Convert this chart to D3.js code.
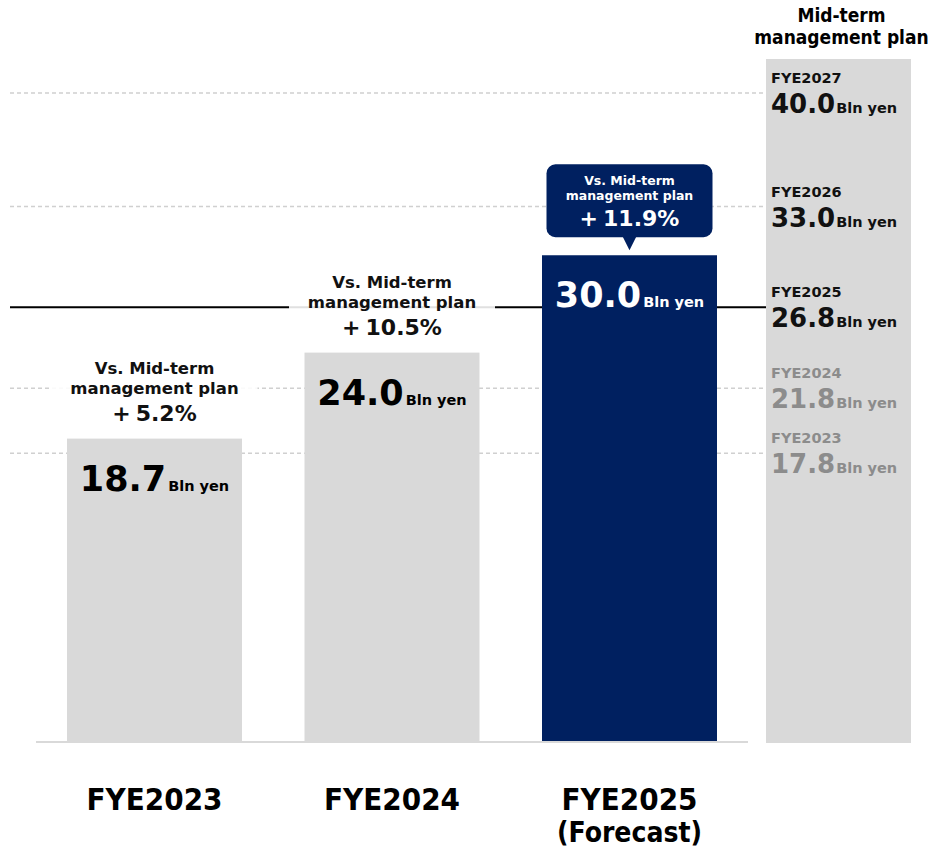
<!DOCTYPE html>
<html>
<head>
<meta charset="utf-8">
<script src="https://cdn.jsdelivr.net/npm/d3@7"></script>
<style>
  html, body { margin: 0; padding: 0; background: #fff; }
  svg { display: block; }
  text { font-family: "DejaVu Sans", Verdana, sans-serif; font-weight: bold; }
  .cond { font-family: "DejaVu Sans Condensed", "DejaVu Sans", sans-serif; font-stretch: condensed; }
</style>
</head>
<body>
<svg id="chart" width="930" height="849"></svg>
<script>
// Results by fiscal year (billion yen)
const categories = ["FYE2023", "FYE2024", "FYE2025"];
const subLabels = ["", "", "(Forecast)"];
const values = [18.7, 24.0, 30.0];
const vsPlanLabels = ["+5.2%", "+10.5%", "+11.9%"];
const highlightCategory = "FYE2025";

// Mid-term management plan targets (billion yen)
const planYears = ["FYE2027", "FYE2026", "FYE2025", "FYE2024", "FYE2023"];
const planValues = [40.0, 33.0, 26.8, 21.8, 17.8];

const unit = "Bln yen";
const vsPlanTitle = ["Vs. Mid-term", "management plan"];
const planTitle = ["Mid-term", "management plan"];

const NAVY = "#002060";
const GREY_BAR = "#d9d9d9";
const GREY_TEXT = "#8c8c8c";

const svg = d3.select("#chart");

const x = d3.scaleBand()
  .domain(categories)
  .range([67, 717])
  .paddingInner(62.5 / 237.5)
  .paddingOuter(0);

const y = d3.scaleLinear().domain([0, 40]).range([742, 93]);

const bw = x.bandwidth();
const lineX0 = 10, lineX1 = 766;
const col = { x: 766, w: 145, top: 59 };

// Percentage label with a wider gap after the sign
function pctText(sel, label, size) {
  sel.append("tspan").attr("font-size", size).text(label.charAt(0));
  sel.append("tspan").attr("font-size", size).attr("dx", 5).text(label.slice(1));
}

// Plan column background
svg.append("rect")
  .attr("x", col.x).attr("y", col.top)
  .attr("width", col.w).attr("height", y(0) - col.top + 1)
  .attr("fill", GREY_BAR);

// Plan reference lines: current year solid, others dashed
svg.append("g").selectAll("line")
  .data(planYears.map((yr, i) => ({ yr, v: planValues[i] })))
  .join("line")
  .attr("x1", lineX0).attr("x2", lineX1)
  .attr("y1", d => y(d.v)).attr("y2", d => y(d.v))
  .attr("stroke", d => d.yr === highlightCategory ? "#000" : "#d0d0d0")
  .attr("stroke-width", d => d.yr === highlightCategory ? 2 : 1.5)
  .attr("stroke-dasharray", d => d.yr === highlightCategory ? null : "4,3");

// Bars
const data = categories.map((c, i) => ({ c, v: values[i], pct: vsPlanLabels[i], sub: subLabels[i] }));

svg.append("g").selectAll("rect")
  .data(data)
  .join("rect")
  .attr("x", d => x(d.c))
  .attr("y", d => y(d.v))
  .attr("width", bw)
  .attr("height", d => y(0) - y(d.v))
  .attr("fill", d => d.c === highlightCategory ? NAVY : GREY_BAR);

// "Vs. plan" notes above the grey bars
data.filter(d => d.c !== highlightCategory).forEach(d => {
  const cx = x(d.c) + bw / 2;
  const top = y(d.v);
  const pctBase = top - 18;
  const mpBase = pctBase - 27;
  const vsBase = mpBase - 20;
  const g = svg.append("g");
  g.append("rect")
    .attr("x", cx - 103).attr("y", vsBase - 17)
    .attr("width", 206).attr("height", pctBase + 6 - (vsBase - 17))
    .attr("fill", "#fff").attr("opacity", 0.88);
  g.append("text").attr("x", cx).attr("y", vsBase)
    .attr("text-anchor", "middle").attr("font-size", 16.5).attr("fill", "#111")
    .text(vsPlanTitle[0]);
  g.append("text").attr("x", cx).attr("y", mpBase)
    .attr("text-anchor", "middle").attr("font-size", 16.5).attr("fill", "#111")
    .text(vsPlanTitle[1]);
  g.append("text").attr("x", cx).attr("y", pctBase)
    .attr("text-anchor", "middle").attr("fill", "#111")
    .call(pctText, d.pct, 22);
});

// Callout above the highlighted bar
data.filter(d => d.c === highlightCategory).forEach(d => {
  const cx = x(d.c) + bw / 2;
  const top = y(d.v);
  const boxW = 166, boxH = 73;
  const boxBottom = top - 18;
  const boxTop = boxBottom - boxH;
  const g = svg.append("g");
  g.append("rect")
    .attr("x", cx - boxW / 2).attr("y", boxTop)
    .attr("width", boxW).attr("height", boxH)
    .attr("rx", 9).attr("ry", 9)
    .attr("fill", NAVY);
  g.append("path")
    .attr("d", `M${cx - 7},${boxBottom - 1} L${cx + 7},${boxBottom - 1} L${cx},${top - 5} Z`)
    .attr("fill", NAVY);
  g.append("text").attr("x", cx).attr("y", boxTop + 21)
    .attr("text-anchor", "middle").attr("font-size", 12.5).attr("fill", "#fff")
    .text(vsPlanTitle[0]);
  g.append("text").attr("x", cx).attr("y", boxTop + 36)
    .attr("text-anchor", "middle").attr("font-size", 12.5).attr("fill", "#fff")
    .text(vsPlanTitle[1]);
  g.append("text").attr("x", cx).attr("y", boxTop + 62)
    .attr("text-anchor", "middle").attr("fill", "#fff")
    .call(pctText, d.pct, 22);
});

// Value labels inside the bars
svg.append("g").selectAll("text")
  .data(data)
  .join("text")
  .attr("x", d => x(d.c) + bw / 2)
  .attr("y", d => y(d.v) + 52)
  .attr("text-anchor", "middle")
  .attr("fill", d => d.c === highlightCategory ? "#fff" : "#000")
  .each(function (d) {
    const t = d3.select(this);
    t.append("tspan").attr("font-size", 35).text(d.v.toFixed(1));
    t.append("tspan").attr("font-size", 14.5).attr("dx", 2).text(unit);
  });

// Baseline
svg.append("line")
  .attr("x1", 36).attr("x2", 748)
  .attr("y1", y(0)).attr("y2", y(0))
  .attr("stroke", GREY_BAR).attr("stroke-width", 2);

// Category axis
const xAxis = svg.append("g")
  .attr("transform", `translate(0,${y(0)})`)
  .call(d3.axisBottom(x).tickSize(0));
xAxis.select(".domain").remove();
xAxis.selectAll("text")
  .attr("class", "cond")
  .attr("y", 68).attr("dy", 0)
  .attr("font-size", 31)
  .attr("fill", "#000")
  .each(function (d, i) {
    if (subLabels[i]) {
      d3.select(this).append("tspan")
        .attr("x", 0).attr("dy", 32)
        .attr("font-size", 28)
        .text(subLabels[i]);
    }
  });

// Plan column labels
const planG = svg.append("g");
planYears.forEach((yr, i) => {
  const v = planValues[i];
  const past = yr < highlightCategory;
  const color = past ? GREY_TEXT : "#111";
  const base = y(v) + 20;
  planG.append("text")
    .attr("x", col.x + 5).attr("y", base - 30)
    .attr("font-size", 14.5).attr("fill", color)
    .text(yr);
  const t = planG.append("text")
    .attr("x", col.x + 5).attr("y", base)
    .attr("fill", color);
  t.append("tspan").attr("font-size", 26).text(v.toFixed(1));
  t.append("tspan").attr("font-size", 14.5).attr("dx", 1).text(unit);
});

// Plan column title
svg.append("g").selectAll("text")
  .data(planTitle)
  .join("text")
  .attr("class", "cond")
  .attr("x", col.x + col.w / 2 + 3)
  .attr("y", (d, i) => 22 + i * 22)
  .attr("text-anchor", "middle")
  .attr("font-size", 19)
  .attr("fill", "#000")
  .text(d => d);
</script>
</body>
</html>
